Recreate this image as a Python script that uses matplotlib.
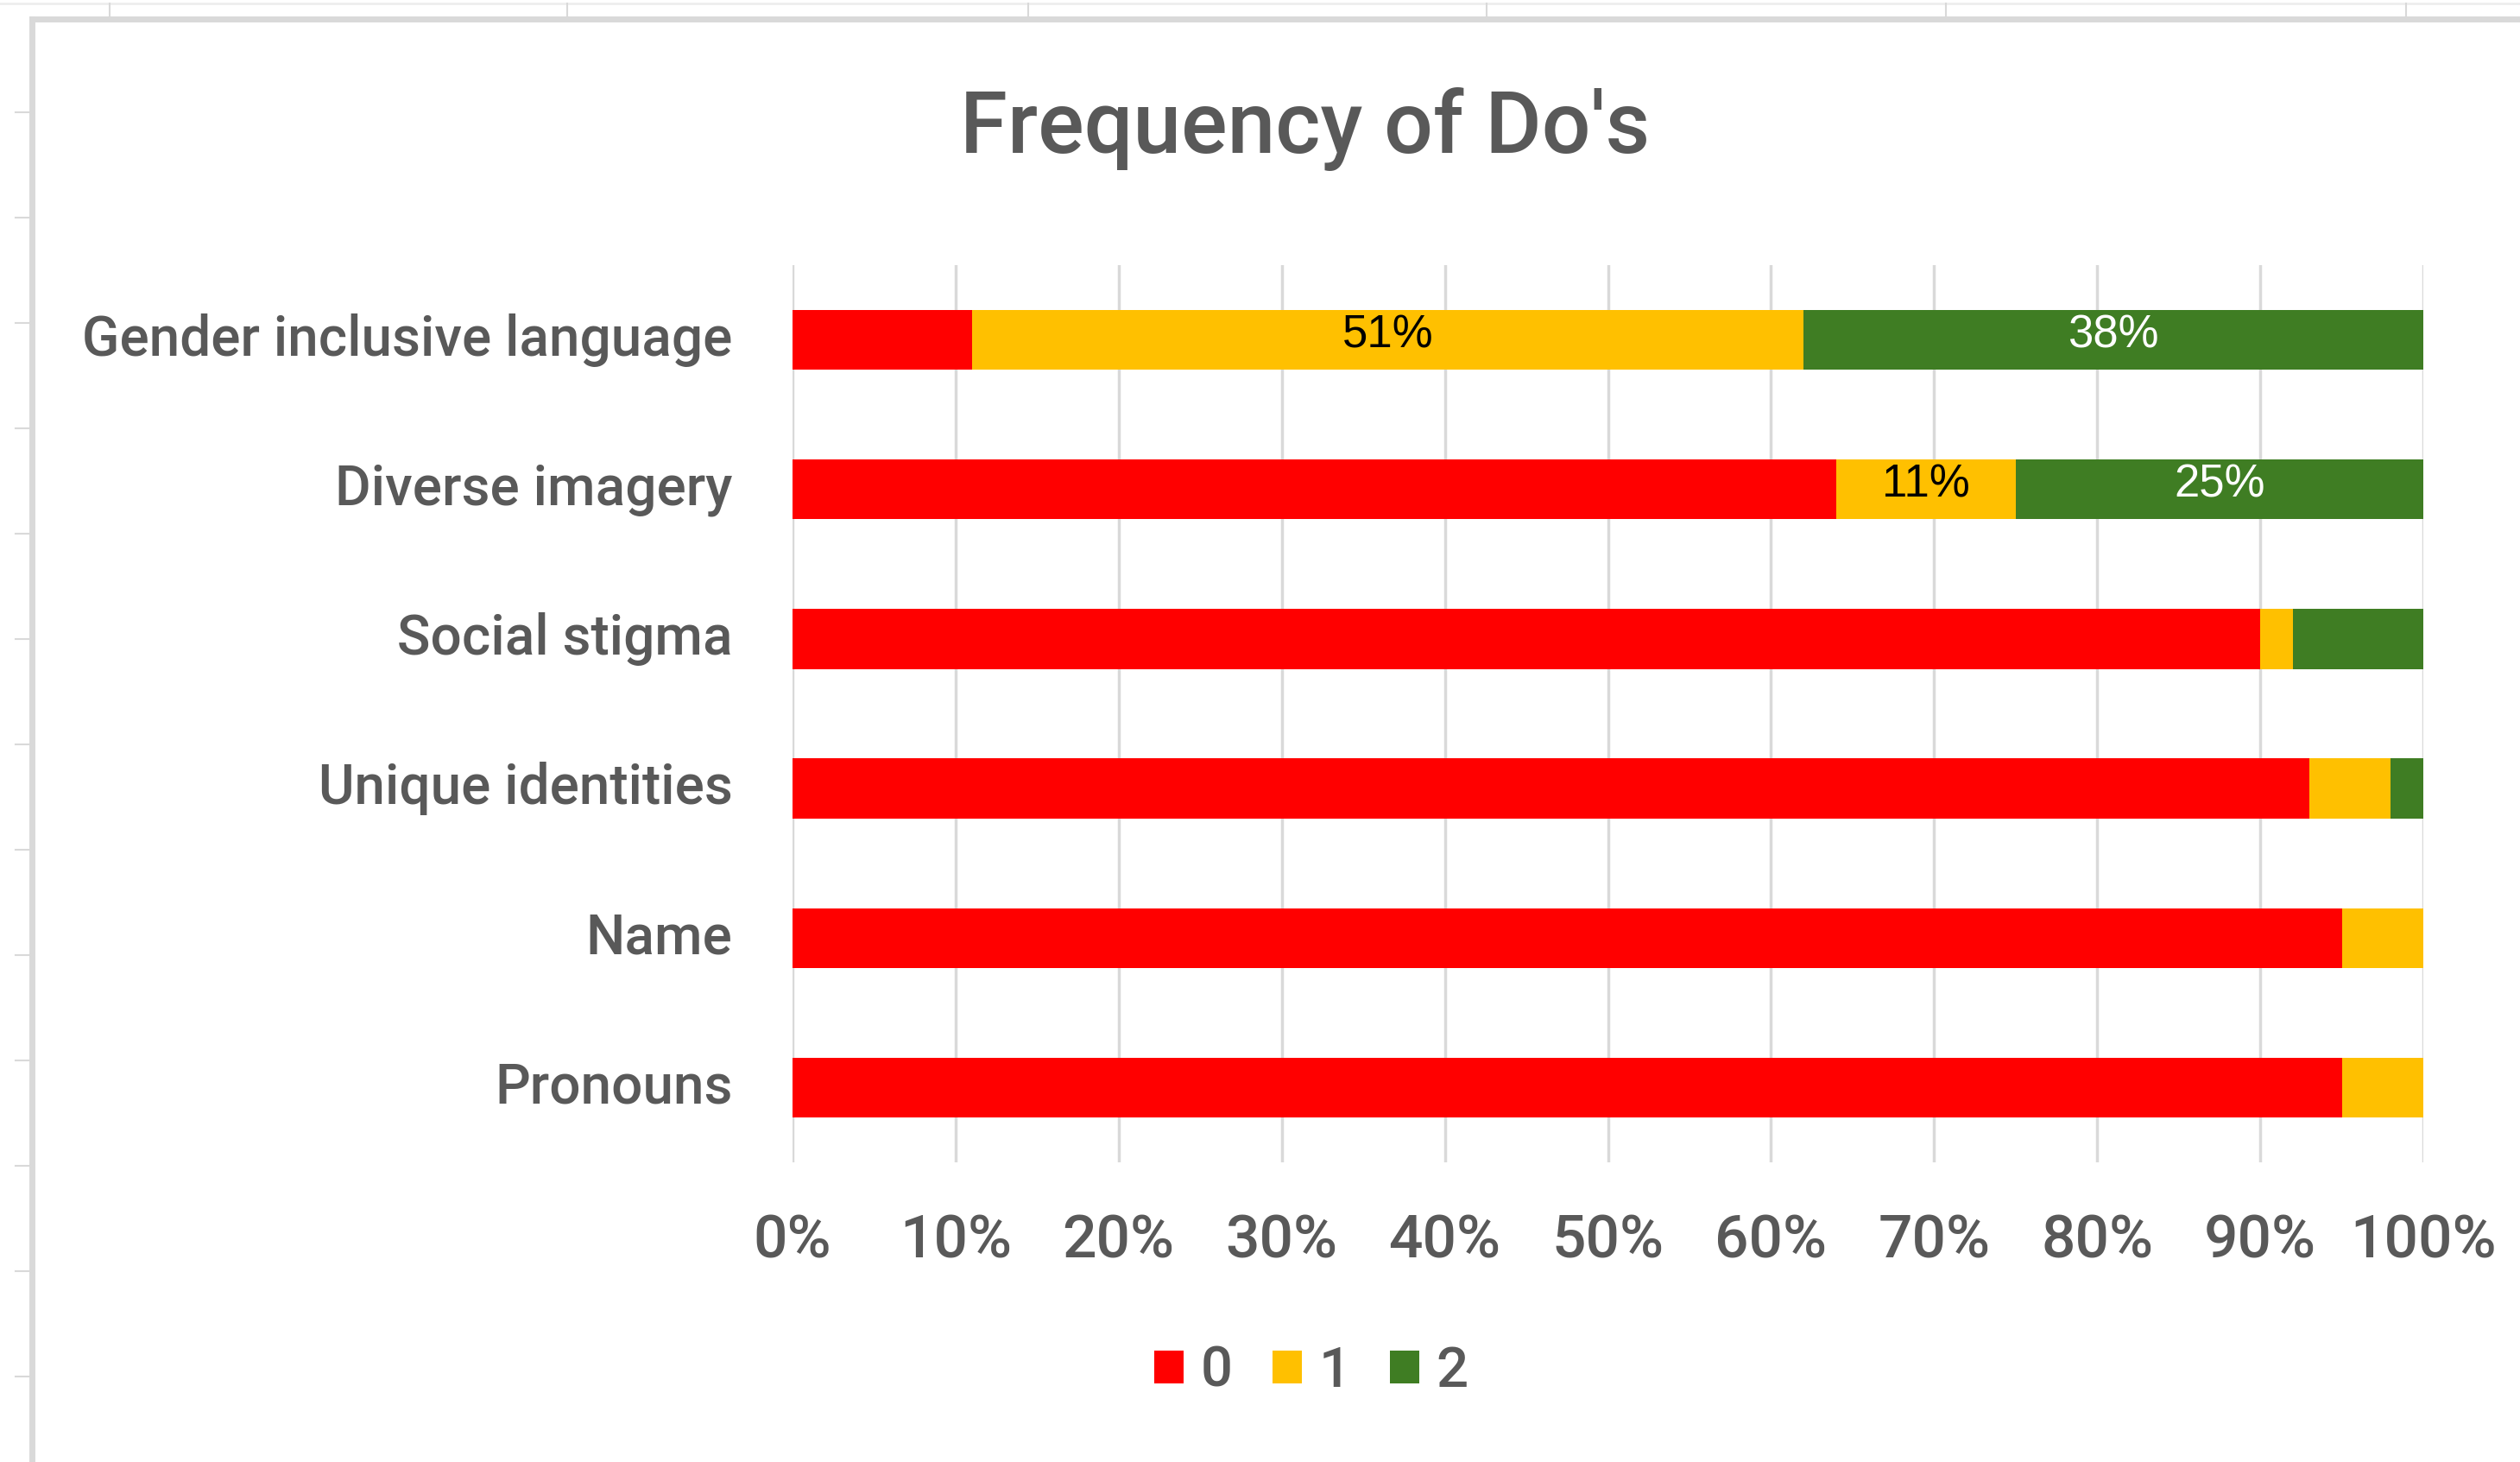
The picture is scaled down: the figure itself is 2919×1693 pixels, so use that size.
import matplotlib
matplotlib.use("Agg")
import matplotlib.pyplot as plt
from matplotlib.patches import Patch
from matplotlib.lines import Line2D
import numpy as np

categories = ["Gender inclusive language", "Diverse imagery", "Social stigma",
              "Unique identities", "Name", "Pronouns"]
series_names = ["0", "1", "2"]
vals_0 = [0.11, 0.64, 0.90, 0.93, 0.95, 0.95]
vals_1 = [0.51, 0.11, 0.02, 0.05, 0.05, 0.05]
vals_2 = [0.38, 0.25, 0.08, 0.02, 0.00, 0.00]
# which segments carry a data label (Excel shows only some)
show_1 = [True, True, False, False, False, False]
show_2 = [True, True, False, False, False, False]
colors = ["#FF0000", "#FFC000", "#3F7D23"]
label_colors = ["black", "black", "white"]
xticks = np.arange(0, 1.01, 0.1)
xticklabels = [f"{int(round(t*100))}%" for t in xticks]

TEXT = "#595959"
FONT = ["Roboto", "DejaVu Sans"]
LBLFONT = ["Liberation Sans Narrow", "Liberation Sans", "DejaVu Sans"]

W, H, DPI = 2919, 1693, 100
fig = plt.figure(figsize=(W / DPI, H / DPI), dpi=DPI)
fig.patch.set_facecolor("white")

# spreadsheet frame decorations
grey = "#D9D9D9"
fig.add_artist(Line2D([37 / W, 1], [1 - 22 / H, 1 - 22 / H], color=grey, lw=5, transform=fig.transFigure))
fig.add_artist(Line2D([37 / W, 37 / W], [0, 1 - 22 / H], color=grey, lw=5, transform=fig.transFigure))
fig.add_artist(Line2D([0, 1], [1 - 4 / H, 1 - 4 / H], color="#EEEEEE", lw=2, transform=fig.transFigure))
for x in [127, 657, 1191, 1722, 2254, 2787]:
    fig.add_artist(Line2D([x / W, x / W], [1 - 20 / H, 1 - 4 / H], color=grey, lw=1.5, transform=fig.transFigure))
for y in np.arange(130, 1693, 122):
    fig.add_artist(Line2D([18 / W, 37 / W], [1 - y / H, 1 - y / H], color=grey, lw=1.5, transform=fig.transFigure))

ax = fig.add_axes([918 / W, 1 - 1346 / H, (2807 - 918) / W, (1346 - 307) / H])
ax.set_facecolor("white")
y = np.arange(len(categories))
series = [vals_0, vals_1, vals_2]
shows = [None, show_1, show_2]
left = np.zeros(len(categories))
for i, (vals, col) in enumerate(zip(series, colors)):
    bars = ax.barh(y, vals, left=left, height=0.4, color=col, edgecolor="none", zorder=3,
                   label=series_names[i])
    if shows[i] is not None:
        for j, b in enumerate(bars):
            if shows[i][j]:
                ax.text(left[j] + vals[j] / 2, y[j] - 0.03, f"{int(round(vals[j]*100))}%",
                        ha="center", va="center", fontsize=38, color=label_colors[i],
                        family=LBLFONT, zorder=4)
    left = left + np.array(vals)

ax.set_xlim(0, 1)
ax.set_ylim(len(categories) - 0.5, -0.5)
ax.set_xticks(xticks)
ax.set_xticklabels(xticklabels, fontsize=50, color=TEXT, family=FONT, weight=500)
ax.set_yticks(y)
ax.set_yticklabels(categories, fontsize=46, color=TEXT, family=FONT, weight=500, va="center")
ax.tick_params(axis="both", length=0)
ax.tick_params(axis="x", pad=42)
ax.tick_params(axis="y", pad=50)
ax.grid(axis="x", color=grey, lw=2.5, zorder=0)
for s in ax.spines.values():
    s.set_visible(False)

fig.text(1512 / W, 1 - 150 / H, "Frequency of Do's", ha="center", va="center",
         fontsize=72, color=TEXT, family=FONT, weight=500)

handles = [Patch(facecolor=c, edgecolor="none") for c in colors]
fig.legend(handles, series_names, loc="center", bbox_to_anchor=(1519 / W, 1 - 1588 / H),
           ncol=3, frameon=False, prop={"family": FONT, "size": 47, "weight": 500}, labelcolor=TEXT,
           handlelength=0.52, handleheight=0.52, handletextpad=0.3, columnspacing=0.7)

fig.savefig("out.png", dpi=DPI, facecolor="white")
